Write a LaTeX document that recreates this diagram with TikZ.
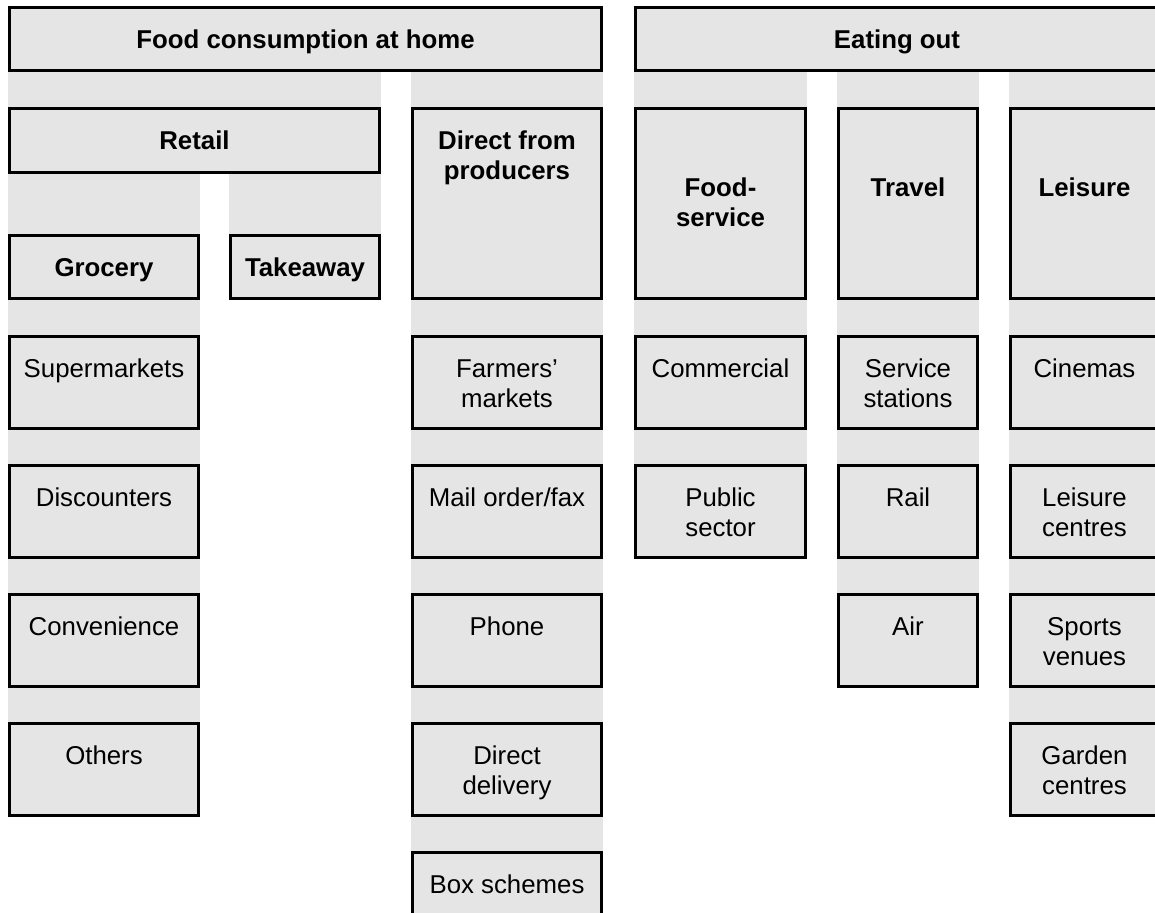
\documentclass[tikz,border=0pt]{standalone}
\usepackage{fontspec}
\setmainfont{Liberation Sans}
\usepackage{tikz}
\usepackage{xcolor}

\definecolor{cellgray}{RGB}{229,229,229}

\begin{document}
\begin{tikzpicture}[x=0.5pt, y=-0.5pt,
    cell/.style n args={3}{draw=black, line width=1.5pt, fill=cellgray, anchor=north west, inner sep=0pt,
        execute at begin node={\begin{minipage}[t][#2][t]{#1}\centering\rule{0pt}{#3}},
        execute at end node={\end{minipage}}},
    head/.style={font=\fontsize{12.9pt}{15pt}\selectfont\bfseries},
    leaf/.style={font=\fontsize{12.9pt}{15pt}\selectfont},
    band/.style={fill=cellgray}]

    \useasboundingbox (0,0) rectangle (1155,912);
    \clip (0,0) rectangle (1155,912);

    % Top level
    \node[cell={296pt}{31.5pt}{20.25pt}, head] (home) at (8,6) {Food consumption at home};
    \node[cell={261.5pt}{31.5pt}{20.25pt}, head] (eating) at (634,6) {Eating out};

    % Channels
    \node[cell={185pt}{32pt}{20.25pt}, head] (retail) at (8,107) {Retail};
    \node[cell={94.5pt}{95pt}{20.25pt}, head] (direct) at (411,107) {Direct from\\producers};
    \node[cell={85pt}{95pt}{43.75pt}, head] (foodserv) at (634,107) {Food-\\service};
    \node[cell={69.5pt}{95pt}{43.75pt}, head] (travel) at (837,107) {Travel};
    \node[cell={74pt}{95pt}{43.75pt}, head] (leisure) at (1009,107) {Leisure};
    \node[cell={94.5pt}{31.5pt}{20.25pt}, head] (grocery) at (8,234) {Grocery};
    \node[cell={74.5pt}{31.5pt}{20.25pt}, head] (takeaway) at (229,234) {Takeaway};

    % Grocery outlets
    \node[cell={94.5pt}{46pt}{20.25pt}, leaf] (super) at (8,335) {Supermarkets};
    \node[cell={94.5pt}{46pt}{20.25pt}, leaf] (disc) at (8,464) {Discounters};
    \node[cell={94.5pt}{46pt}{20.25pt}, leaf] (conv) at (8,593) {Convenience};
    \node[cell={94.5pt}{46pt}{20.25pt}, leaf] (others) at (8,722) {Others};

    % Direct outlets
    \node[cell={94.5pt}{46pt}{20.25pt}, leaf] (farmers) at (411,335) {Farmers’\\markets};
    \node[cell={94.5pt}{46pt}{20.25pt}, leaf] (mail) at (411,464) {Mail order/fax};
    \node[cell={94.5pt}{46pt}{20.25pt}, leaf] (phone) at (411,593) {Phone};
    \node[cell={94.5pt}{46pt}{20.25pt}, leaf] (delivery) at (411,722) {Direct\\delivery};
    \node[cell={94.5pt}{46pt}{20.25pt}, leaf] (boxsch) at (411,851) {Box schemes};

    % Eating out outlets
    \node[cell={85pt}{46pt}{20.25pt}, leaf] (commercial) at (634,335) {Commercial};
    \node[cell={85pt}{46pt}{20.25pt}, leaf] (public) at (634,464) {Public\\sector};
    \node[cell={69.5pt}{46pt}{20.25pt}, leaf] (service) at (837,335) {Service\\stations};
    \node[cell={69.5pt}{46pt}{20.25pt}, leaf] (rail) at (837,464) {Rail};
    \node[cell={69.5pt}{46pt}{20.25pt}, leaf] (air) at (837,593) {Air};
    \node[cell={74pt}{46pt}{20.25pt}, leaf] (cinemas) at (1009,335) {Cinemas};
    \node[cell={74pt}{46pt}{20.25pt}, leaf] (lcentres) at (1009,464) {Leisure\\centres};
    \node[cell={74pt}{46pt}{20.25pt}, leaf] (sports) at (1009,593) {Sports\\venues};
    \node[cell={74pt}{46pt}{20.25pt}, leaf] (garden) at (1009,722) {Garden\\centres};

    % Bands
    \fill[band] (retail.north west |- home.south) rectangle (retail.north east);
    \fill[band] (direct.north west |- home.south) rectangle (direct.north east);
    \fill[band] (foodserv.north west |- eating.south) rectangle (foodserv.north east);
    \fill[band] (travel.north west |- eating.south) rectangle (travel.north east);
    \fill[band] (leisure.north west |- eating.south) rectangle (leisure.north east);
    \fill[band] (grocery.north west |- retail.south) rectangle (grocery.north east);
    \fill[band] (takeaway.north west |- retail.south) rectangle (takeaway.north east);
    \fill[band] (super.north west |- grocery.south) rectangle (super.north east);
    \fill[band] (disc.north west |- super.south) rectangle (disc.north east);
    \fill[band] (conv.north west |- disc.south) rectangle (conv.north east);
    \fill[band] (others.north west |- conv.south) rectangle (others.north east);
    \fill[band] (farmers.north west |- direct.south) rectangle (farmers.north east);
    \fill[band] (mail.north west |- farmers.south) rectangle (mail.north east);
    \fill[band] (phone.north west |- mail.south) rectangle (phone.north east);
    \fill[band] (delivery.north west |- phone.south) rectangle (delivery.north east);
    \fill[band] (boxsch.north west |- delivery.south) rectangle (boxsch.north east);
    \fill[band] (commercial.north west |- foodserv.south) rectangle (commercial.north east);
    \fill[band] (public.north west |- commercial.south) rectangle (public.north east);
    \fill[band] (service.north west |- travel.south) rectangle (service.north east);
    \fill[band] (rail.north west |- service.south) rectangle (rail.north east);
    \fill[band] (air.north west |- rail.south) rectangle (air.north east);
    \fill[band] (cinemas.north west |- leisure.south) rectangle (cinemas.north east);
    \fill[band] (lcentres.north west |- cinemas.south) rectangle (lcentres.north east);
    \fill[band] (sports.north west |- lcentres.south) rectangle (sports.north east);
    \fill[band] (garden.north west |- sports.south) rectangle (garden.north east);
\end{tikzpicture}
\end{document}
